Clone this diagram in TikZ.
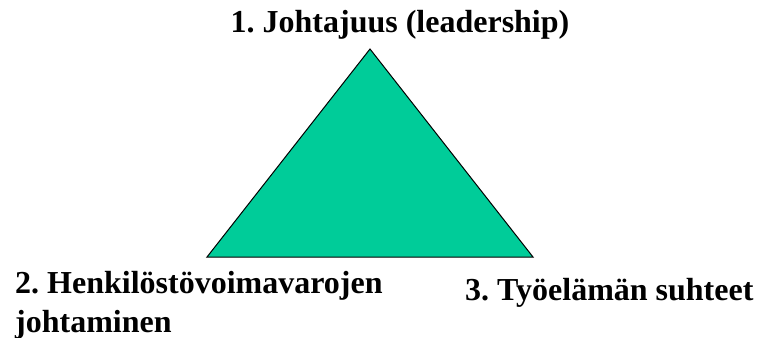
\documentclass[tikz,border=0pt]{standalone}
\usepackage{fontspec}
\setmainfont{Liberation Serif}
\frenchspacing
\definecolor{tri}{HTML}{00CC99}
\tikzset{
  lbl/.style={inner sep=0pt, font=\fontsize{32}{39}\selectfont\bfseries\frenchspacing, align=left},
  tribox/.style={fill=tri, draw=black, line width=1pt, line join=miter}
}
\begin{document}
\begin{tikzpicture}[x=1pt, y=-1pt]
\useasboundingbox (0,0) rectangle (762,337);
\coordinate (apex) at (370,49);
\coordinate (bl) at (207,257);
\coordinate (br) at (533,257);
\draw[tribox] (apex) -- (bl) -- (br) -- cycle;
\node[lbl, anchor=base] (t1) at (400,33) {1. Johtajuus (leadership)};
\node[lbl, anchor=base west] (t2a) at (15,293) {2. Henkilöstövoimavarojen};
\node[lbl, anchor=base west] (t2b) at (15,332) {johtaminen};
\node[lbl, anchor=base west] (t3) at (465,300) {3. Työelämän suhteet};
\end{tikzpicture}
\end{document}
